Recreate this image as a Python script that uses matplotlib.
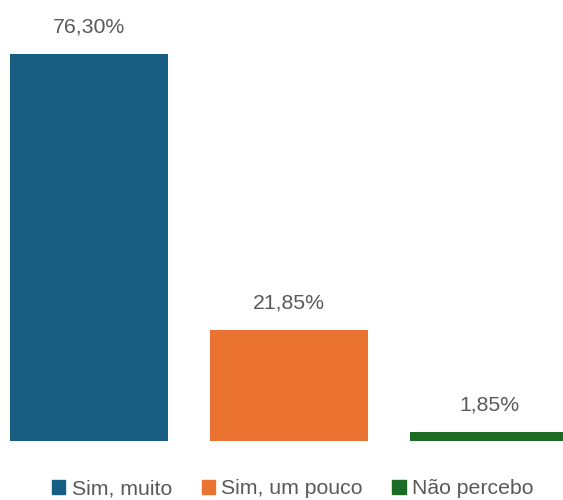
import matplotlib.pyplot as plt
from matplotlib.patches import Patch

# Dados do gráfico
categorias = ["Sim, muito", "Sim, um pouco", "Não percebo"]
valores = [76.30, 21.85, 1.85]
cores = ["#175E82", "#EA7331", "#1B6B24"]

plt.rcParams['font.family'] = ['Liberation Sans', 'DejaVu Sans']

fig = plt.figure(figsize=(5.63, 5.00), dpi=100)
ax = fig.add_axes([0, 0.118, 1, 0.882])

x = range(len(categorias))
barras = ax.bar(x, valores, width=0.79, color=cores)

for xi, v in zip(x, valores):
    rotulo = f"{v:.2f}%".replace(".", ",")
    ax.annotate(rotulo, (xi, v), xytext=(0, 19.5), textcoords="offset points",
                ha="center", va="center", fontsize=15.3, color="#595959")

ax.set_xlim(-0.445, 2.37)
ax.set_ylim(0, 86.95)
ax.axis("off")

handles = [Patch(color=c, label=l) for c, l in zip(cores, categorias)]
fig.legend(handles=handles, loc="center", bbox_to_anchor=(0.52, 0.022), ncol=3,
           frameon=False, fontsize=15.3, handlelength=0.62, handleheight=0.62,
           handletextpad=0.3, columnspacing=1.4, labelcolor="#595959")

fig.savefig("out.png", dpi=100)
